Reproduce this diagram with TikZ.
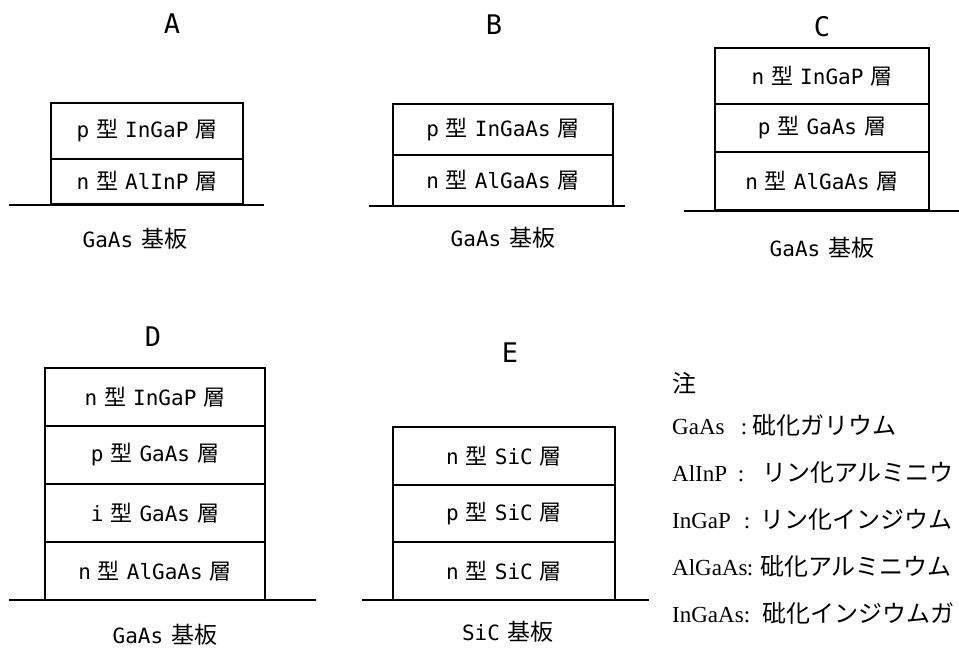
\documentclass[tikz,border=0pt]{standalone}
\usepackage{fontspec}
\setmainfont{DejaVu Sans Mono}
\newfontfamily\latfont{DejaVu Sans Mono}
\newfontfamily\jpfont{Noto Sans CJK JP}
\newfontfamily\notefont{Liberation Serif}
\newcommand\Jb[1]{{\jpfont\fontsize{22pt}{26pt}\selectfont #1}}
\newcommand\lay[2]{{\latfont\fontsize{21pt}{25pt}\selectfont #1\hspace{7pt}\Jb{型}\hspace{7pt}#2\hspace{7pt}\Jb{層}}}
\newcommand\subs[1]{{\latfont\fontsize{21pt}{25pt}\selectfont #1\hspace{8pt}{\jpfont\fontsize{23pt}{27pt}\selectfont 基板}}}
\begin{document}
\begin{tikzpicture}[x=1pt,y=-1pt,
  layer/.style={draw, line width=1.1pt, inner sep=0pt, anchor=center},
  thicklayer/.style={layer, line width=1.5pt},
  baseline/.style={line width=1.3pt},
  thickbase/.style={line width=2.6pt},
  ttl/.style={font=\latfont\fontsize{27pt}{31pt}\selectfont, inner sep=0pt},
  sublabel/.style={inner sep=0pt},
  note/.style={font=\notefont\fontsize{23pt}{27pt}\selectfont, inner sep=0pt, anchor=base west},
  notecolon/.style={font=\notefont\fontsize{23pt}{27pt}\selectfont, inner sep=0pt, anchor=base},
  notejp/.style={font=\jpfont\fontsize{24pt}{28pt}\selectfont, inner sep=0pt, anchor=base west}]
\useasboundingbox[fill=white] (0,0) rectangle (959,648);

% ---------- A ----------
\node[ttl] (tA) at (172,24) {A};
\node[layer, minimum width=192pt, minimum height=56pt] (a1) at (147,131) {\lay{p}{InGaP}};
\node[layer, minimum width=192pt, minimum height=45pt] (a2) at (147,181.5) {\lay{n}{AlInP}};
\coordinate (aL) at (9,205);
\coordinate (aR) at (264,205);
\draw[baseline] (aL) -- (aR);
\node[sublabel] (sA) at (135,239) {\subs{GaAs}};

% ---------- B ----------
\node[ttl] (tB) at (494,25) {B};
\node[layer, minimum width=220pt, minimum height=51pt] (b1) at (503,129.5) {\lay{p}{InGaAs}};
\node[layer, minimum width=220pt, minimum height=51pt] (b2) at (503,180.5) {\lay{n}{AlGaAs}};
\coordinate (bL) at (369,206);
\coordinate (bR) at (625,206);
\draw[baseline] (bL) -- (bR);
\node[sublabel] (sB) at (503,238) {\subs{GaAs}};

% ---------- C ----------
\node[ttl] (tC) at (822,27) {C};
\node[thicklayer, minimum width=214pt, minimum height=56pt] (c1) at (822,76) {\lay{n}{InGaP}};
\node[thicklayer, minimum width=214pt, minimum height=48pt] (c2) at (822,128) {\lay{p}{GaAs}};
\node[thicklayer, minimum width=214pt, minimum height=58pt] (c3) at (822,181) {\lay{n}{AlGaAs}};
\coordinate (cL) at (684,211);
\coordinate (cR) at (960,211);
\draw[thickbase] (cL) -- (cR);
\node[sublabel] (sC) at (822,248) {\subs{GaAs}};

% ---------- D ----------
\node[ttl] (tD) at (153,337) {D};
\node[layer, minimum width=220pt, minimum height=58pt] (d1) at (155,397) {\lay{n}{InGaP}};
\node[layer, minimum width=220pt, minimum height=58pt] (d2) at (155,455) {\lay{p}{GaAs}};
\node[layer, minimum width=220pt, minimum height=58pt] (d3) at (155,513) {\lay{i}{GaAs}};
\node[layer, minimum width=220pt, minimum height=58pt] (d4) at (155,571) {\lay{n}{AlGaAs}};
\coordinate (dL) at (9,600);
\coordinate (dR) at (316,600);
\draw[baseline] (dL) -- (dR);
\node[sublabel] (sD) at (165,635) {\subs{GaAs}};

% ---------- E ----------
\node[ttl] (tE) at (510,353) {E};
\node[layer, minimum width=222pt, minimum height=58pt] (e1) at (504,456) {\lay{n}{SiC}};
\node[layer, minimum width=222pt, minimum height=57pt] (e2) at (504,513.5) {\lay{p}{SiC}};
\node[layer, minimum width=222pt, minimum height=58pt] (e3) at (504,571) {\lay{n}{SiC}};
\coordinate (eL) at (362,600);
\coordinate (eR) at (649,600);
\draw[baseline] (eL) -- (eR);
\node[sublabel] (sE) at (508,632) {\subs{SiC}};

% ---------- notes ----------
\node[notejp] (n0) at (672,392) {注};
\node[note] (n1a) at (672,434) {GaAs};
\node[notecolon] (n1b) at (744,434) {:};
\node[notejp] (n1c) at (752,434) {砒化ガリウム};
\node[note] (n2a) at (672,481) {AlInP};
\node[notecolon] (n2b) at (741,481) {:};
\node[notejp] (n2c) at (762,481) {リン化アルミニウ};
\node[note] (n3a) at (672,528) {InGaP};
\node[notecolon] (n3b) at (747,528) {:};
\node[notejp] (n3c) at (760,528) {リン化インジウム};
\node[note] (n4a) at (672,575) {AlGaAs};
\node[notecolon] (n4b) at (750,575) {:};
\node[notejp] (n4c) at (760,575) {砒化アルミニウム};
\node[note] (n5a) at (672,622) {InGaAs};
\node[notecolon] (n5b) at (747,622) {:};
\node[notejp] (n5c) at (762,622) {砒化インジウムガ};
\end{tikzpicture}
\end{document}
